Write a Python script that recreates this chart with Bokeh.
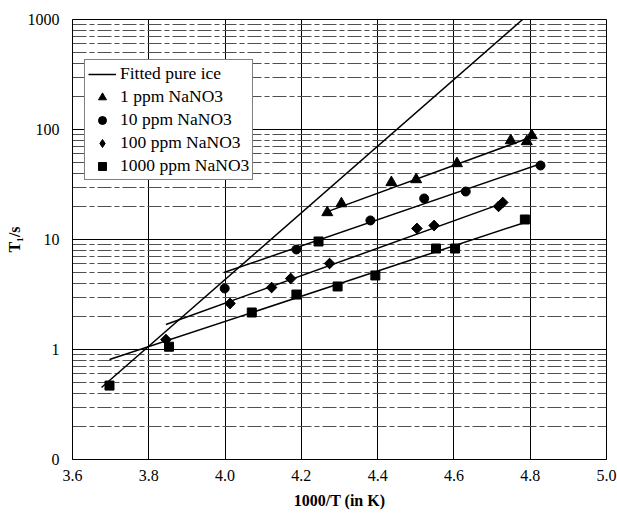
from bokeh.plotting import figure
from bokeh.models import FixedTicker, Legend, LegendItem
from bokeh.embed import file_html
from bokeh.resources import INLINE
import math

# ---- data ----
x_ticks = [3.6, 3.8, 4.0, 4.2, 4.4, 4.6, 4.8, 5.0]
x_tick_labels = ["3.6", "3.8", "4.0", "4.2", "4.4", "4.6", "4.8", "5.0"]
y_ticks = [0.1, 1, 10, 100, 1000]
y_tick_labels = ["0", "1", "10", "100", "1000"]

ppm1_x = [4.268, 4.305, 4.436, 4.501, 4.608, 4.749, 4.791, 4.804]
ppm1_y = [17.6, 21.2, 33.0, 35.1, 49.1, 79.4, 77.8, 88.2]

ppm10_x = [3.999, 4.187, 4.381, 4.522, 4.631, 4.827]
ppm10_y = [3.59, 8.11, 14.9, 23.6, 27.3, 47.1]

ppm100_x = [3.845, 4.013, 4.122, 4.172, 4.274, 4.503, 4.548, 4.717, 4.728]
ppm100_y = [1.23, 2.62, 3.66, 4.42, 6.05, 12.6, 13.4, 20.0, 21.7]

ppm1000_x = [3.697, 3.853, 4.070, 4.187, 4.245, 4.295, 4.394, 4.553, 4.603, 4.786]
ppm1000_y = [0.47, 1.06, 2.17, 3.16, 9.59, 3.74, 4.71, 8.28, 8.28, 15.2]

ice_x = [3.676, 4.78]
ice_y = [0.451, 1000]
fit1_x = [4.27, 4.80]
fit1_y = [18.0, 84.6]
fit10_x = [3.997, 4.822]
fit10_y = [5.01, 48.1]
fit100_x = [3.845, 4.725]
fit100_y = [1.69, 21.2]
fit1000_x = [3.697, 4.786]
fit1000_y = [0.81, 14.3]

labels = ["Fitted pure ice", "1 ppm NaNO3", "10 ppm NaNO3", "100 ppm NaNO3", "1000 ppm NaNO3"]

FONT = "Liberation Serif"

p = figure(width=617, height=513, x_range=(3.6, 5.0), y_range=(0.1, 1000),
           y_axis_type="log", output_backend="svg", toolbar_location=None,
           min_border_left=72, min_border_right=11, min_border_top=19, min_border_bottom=54)
p.background_fill_color = "white"
p.border_fill_color = "white"
p.outline_line_color = "black"
p.outline_line_width = 1

minor = [m * 10.0 ** e for e in range(-1, 3) for m in range(2, 10)]

p.xaxis.ticker = FixedTicker(ticks=x_ticks)
p.yaxis.ticker = FixedTicker(ticks=y_ticks, minor_ticks=minor)
p.xaxis.major_label_overrides = dict(zip(x_ticks, x_tick_labels))
p.yaxis.major_label_overrides = dict(zip(y_ticks, y_tick_labels))

for ax in (p.xaxis, p.yaxis):
    ax.major_tick_out = 0
    ax.major_tick_in = 0
    ax.minor_tick_out = 0
    ax.minor_tick_in = 0
    ax.axis_line_color = "black"
    ax.major_label_text_font = FONT
    ax.major_label_text_font_size = "16px"
    ax.major_label_text_color = "black"
    ax.axis_label_text_font = FONT
    ax.axis_label_text_font_style = "bold"
    ax.axis_label_text_font_size = "16px"
    ax.axis_label_text_color = "black"

p.xaxis.axis_label = "1000/T (in K)"
p.yaxis.axis_label = "T\u2081/s"
p.xaxis.major_label_standoff = 10
p.xaxis.axis_label_standoff = 8
p.yaxis.major_label_standoff = 13
p.yaxis.axis_label_standoff = 2

p.xgrid.ticker = FixedTicker(ticks=x_ticks)
p.xgrid.grid_line_color = "black"
p.xgrid.grid_line_width = 1
p.ygrid.ticker = FixedTicker(ticks=y_ticks, minor_ticks=minor)
p.ygrid.grid_line_color = "black"
p.ygrid.grid_line_width = 1
p.ygrid.minor_grid_line_color = "#505050"
p.ygrid.minor_grid_line_dash = "14 3 5 3"
p.ygrid.minor_grid_line_width = 1

r_ice = p.line(ice_x, ice_y, line_color="black", line_width=1.5)
for fx, fy in ((fit1_x, fit1_y), (fit10_x, fit10_y), (fit100_x, fit100_y), (fit1000_x, fit1000_y)):
    p.line(fx, fy, line_color="black", line_width=1.5)

r1 = p.scatter(ppm1_x, ppm1_y, marker="triangle", size=11, color="black")
r10 = p.scatter(ppm10_x, ppm10_y, marker="circle", size=9, color="black")
r100 = p.scatter(ppm100_x, ppm100_y, marker="square", size=7.5, angle=math.pi / 4, color="black")
# diamond glyph on the same points (hidden under the rotated squares) used for the legend
r100_leg = p.scatter(ppm100_x, ppm100_y, marker="diamond", size=10, color="black")
r1000 = p.scatter(ppm1000_x, ppm1000_y, marker="square", size=9, color="black")

legend = Legend(items=[LegendItem(label=l, renderers=[r]) for l, r in
                       zip(labels, [r_ice, r1, r10, r100_leg, r1000])],
                location=(12, 279))
legend.border_line_color = "black"
legend.border_line_width = 1
legend.background_fill_color = "white"
legend.background_fill_alpha = 1
legend.label_text_font = FONT
legend.label_text_font_size = "17.5px"
legend.label_text_color = "black"
legend.glyph_width = 28
legend.glyph_height = 20
legend.label_height = 20
legend.label_standoff = 4
legend.spacing = 2
legend.padding = 3
legend.margin = 0
p.add_layout(legend, "center")

open("out.html", "w").write(file_html(p, INLINE))
